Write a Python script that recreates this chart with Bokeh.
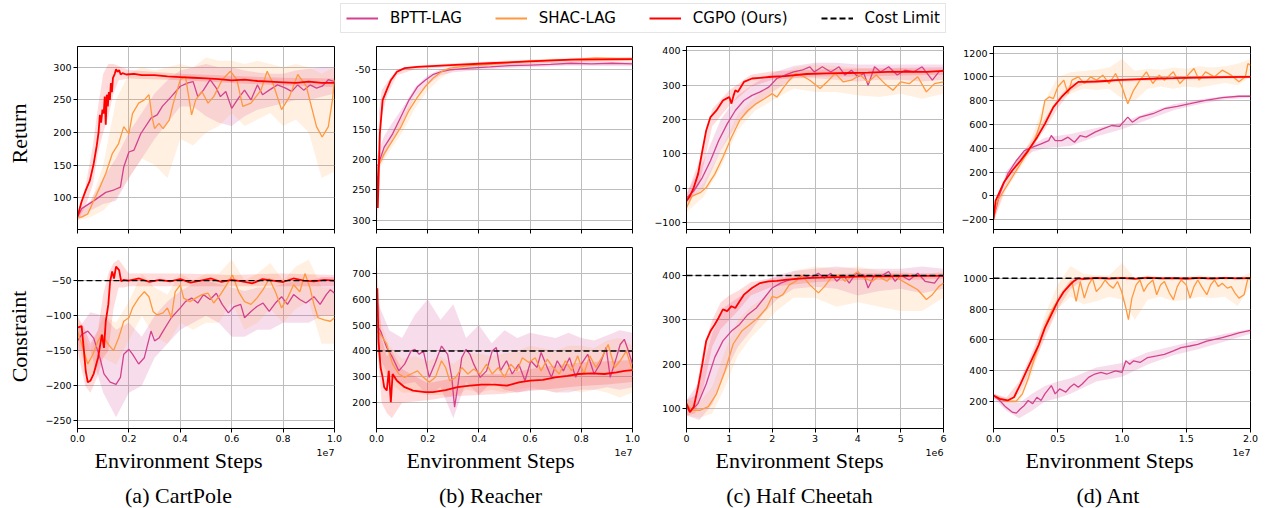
from bokeh.plotting import figure
from bokeh.layouts import column, row
from bokeh.models import (Legend, LegendItem, FixedTicker, Span,
                          CustomJSTickFormatter, NumeralTickFormatter)
from bokeh.core.properties import value
from bokeh.embed import file_html
from bokeh.resources import INLINE

BPTT_C = "#d4418e"
SHAC_C = "#ff983e"
CGPO_C = "#ff0000"

SERIES = ["BPTT-LAG", "SHAC-LAG", "CGPO (Ours)"]
TASKS = ["(a) CartPole", "(b) Reacher", "(c) Half Cheetah", "(d) Ant"]
ROW_LABELS = ["Return", "Constraint"]
COST_LIMITS = [-50, 400, 400, 1000]

# ---------------- CartPole : Return (x in 1e7 steps) ----------------
cp_r_cgpo_x = [0, 0.016, 0.032, 0.048, 0.063, 0.075, 0.082, 0.087, 0.092, 0.097, 0.102, 0.106, 0.110, 0.114, 0.118, 0.122, 0.126, 0.130, 0.134, 0.138, 0.145, 0.150, 0.156, 0.162, 0.168, 0.175, 0.19, 0.22, 0.25, 0.3, 0.35, 0.4, 0.45, 0.5, 0.55, 0.6, 0.65, 0.7, 0.75, 0.8, 0.85, 0.9, 0.95, 1.0]
cp_r_cgpo_y = [71, 94, 111, 126, 152, 180, 200, 227, 215, 235, 229, 255, 212, 258, 240, 262, 250, 276, 262, 284, 290, 297, 293, 296, 289, 291, 289, 290, 288, 288, 286, 285, 284, 283, 282, 280, 281, 279, 278, 277, 276, 278, 276, 276]
cp_r_bptt_x = [0, 0.016, 0.063, 0.11, 0.143, 0.167, 0.18, 0.2, 0.22, 0.246, 0.286, 0.31, 0.33, 0.365, 0.4, 0.43, 0.45, 0.468, 0.49, 0.516, 0.54, 0.556, 0.577, 0.6, 0.627, 0.65, 0.675, 0.7, 0.72, 0.746, 0.778, 0.81, 0.833, 0.857, 0.88, 0.905, 0.93, 0.952, 0.976, 1.0]
cp_r_bptt_y = [70, 83, 95, 108, 112, 116, 147, 170, 173, 198, 222, 227, 240, 255, 271, 276, 278, 255, 265, 281, 268, 255, 263, 237, 253, 265, 250, 273, 258, 265, 273, 268, 263, 273, 265, 273, 268, 271, 281, 278]
cp_r_shac_x = [0, 0.016, 0.04, 0.063, 0.087, 0.11, 0.135, 0.16, 0.18, 0.2, 0.214, 0.238, 0.26, 0.278, 0.29, 0.3, 0.317, 0.333, 0.357, 0.373, 0.4, 0.42, 0.444, 0.46, 0.484, 0.508, 0.53, 0.563, 0.595, 0.62, 0.643, 0.675, 0.714, 0.738, 0.76, 0.794, 0.825, 0.857, 0.89, 0.93, 0.952, 0.976, 0.992, 1.0]
cp_r_shac_y = [70, 70, 75, 95, 116, 137, 167, 183, 209, 198, 229, 245, 250, 258, 224, 206, 214, 206, 219, 245, 281, 286, 227, 250, 263, 245, 255, 281, 294, 281, 240, 245, 265, 294, 276, 235, 255, 289, 271, 209, 193, 209, 250, 281]
cp_r_cgpo_bx = [0, 0.03, 0.06, 0.08, 0.1, 0.12, 0.14, 0.16, 0.2, 0.4, 0.6, 0.8, 1.0]
cp_r_cgpo_lo = [65, 85, 120, 170, 200, 225, 260, 280, 283, 280, 276, 272, 270]
cp_r_cgpo_hi = [75, 115, 180, 240, 290, 305, 305, 302, 296, 290, 287, 284, 283]
cp_r_bptt_bx = [0, 0.05, 0.1, 0.15, 0.2, 0.25, 0.3, 0.35, 0.4, 0.45, 0.5, 0.55, 0.6, 0.65, 0.7, 0.75, 0.8, 0.85, 0.9, 0.95, 1.0]
cp_r_bptt_lo = [65, 80, 90, 95, 130, 160, 190, 215, 240, 240, 225, 215, 210, 225, 235, 240, 245, 250, 250, 255, 260]
cp_r_bptt_hi = [75, 95, 130, 160, 200, 230, 260, 280, 295, 300, 305, 300, 300, 295, 292, 290, 290, 295, 298, 300, 300]
cp_r_shac_bx = [0, 0.05, 0.1, 0.15, 0.2, 0.25, 0.3, 0.35, 0.4, 0.45, 0.5, 0.55, 0.6, 0.65, 0.7, 0.75, 0.8, 0.85, 0.9, 0.95, 1.0]
cp_r_shac_lo = [65, 70, 80, 100, 130, 160, 150, 130, 190, 180, 200, 210, 230, 210, 220, 230, 210, 220, 200, 130, 140]
cp_r_shac_hi = [75, 90, 150, 250, 290, 300, 295, 300, 305, 300, 315, 310, 310, 305, 310, 305, 300, 305, 300, 290, 300]

# ---------------- Reacher : Return (x in 1e7 steps) ----------------
re_r_cgpo_x = [0, 0.005, 0.013, 0.024, 0.04, 0.056, 0.08, 0.11, 0.16, 0.29, 0.44, 0.6, 0.76, 1.0]
re_r_cgpo_y = [-212, -280, -157, -101, -84, -68, -54, -48, -46, -43, -40, -37, -34, -33]
re_r_bptt_x = [0, 0.008, 0.03, 0.063, 0.095, 0.127, 0.16, 0.19, 0.22, 0.254, 0.286, 0.365, 0.444, 0.52, 0.6, 0.68, 0.76, 0.84, 0.92, 1.0]
re_r_bptt_y = [-212, -207, -179, -157, -129, -101, -79, -68, -59, -54, -51, -48, -46, -44, -43, -42, -40, -41, -40, -41]
re_r_shac_x = [0, 0.008, 0.03, 0.063, 0.095, 0.127, 0.16, 0.19, 0.22, 0.254, 0.286, 0.365, 0.444, 0.6, 0.76, 0.857, 1.0]
re_r_shac_y = [-212, -210, -190, -168, -146, -118, -96, -79, -65, -54, -48, -44, -42, -36, -34, -31, -33]
re_r_cgpo_bx = [0, 0.005, 0.01, 0.02, 0.04, 0.08, 0.15, 0.3, 0.6, 1.0]
re_r_cgpo_lo = [-240, -305, -250, -130, -95, -60, -50, -46, -40, -36]
re_r_cgpo_hi = [-195, -240, -120, -85, -72, -50, -44, -40, -34, -30]
re_r_bptt_bx = [0, 0.03, 0.06, 0.1, 0.15, 0.2, 0.25, 0.3, 0.5, 0.75, 1.0]
re_r_bptt_lo = [-220, -195, -170, -140, -95, -75, -60, -55, -48, -44, -45]
re_r_bptt_hi = [-195, -160, -140, -115, -80, -60, -50, -47, -41, -37, -38]
re_r_shac_bx = [0, 0.03, 0.06, 0.1, 0.15, 0.2, 0.25, 0.3, 0.5, 0.75, 1.0]
re_r_shac_lo = [-225, -200, -180, -155, -115, -85, -65, -52, -43, -37, -38]
re_r_shac_hi = [-200, -180, -155, -130, -95, -72, -55, -45, -37, -31, -29]

# ---------------- Half Cheetah : Return (x in 1e6 steps) ----------------
hc_r_cgpo_x = [0, 0.08, 0.17, 0.27, 0.37, 0.46, 0.56, 0.7, 0.85, 0.95, 1.0, 1.05, 1.1, 1.14, 1.2, 1.34, 1.53, 1.72, 2.0, 2.3, 2.8, 3.27, 3.8, 4.24, 4.7, 5.2, 5.6, 6.0]
hc_r_cgpo_y = [-37, -23, 2, 41, 109, 168, 207, 226, 255, 262, 265, 246, 270, 285, 280, 309, 319, 321, 324, 326, 332, 334, 335, 336, 338, 339, 338, 341]
hc_r_bptt_x = [0, 0.17, 0.37, 0.56, 0.75, 0.95, 1.14, 1.34, 1.53, 1.72, 1.92, 2.11, 2.3, 2.5, 2.69, 2.88, 2.98, 3.17, 3.37, 3.56, 3.7, 3.85, 4.0, 4.14, 4.24, 4.39, 4.53, 4.72, 4.92, 5.1, 5.3, 5.5, 5.74, 5.89, 6.0]
hc_r_bptt_y = [-28, -8, 31, 80, 138, 187, 226, 255, 270, 280, 294, 319, 329, 338, 343, 353, 338, 353, 338, 353, 329, 343, 324, 334, 299, 353, 338, 353, 329, 343, 338, 353, 314, 338, 343]
hc_r_shac_x = [0, 0.13, 0.32, 0.46, 0.66, 0.85, 1.05, 1.24, 1.43, 1.63, 1.82, 2.0, 2.11, 2.25, 2.4, 2.55, 2.74, 2.88, 3.12, 3.32, 3.47, 3.66, 3.85, 4.05, 4.24, 4.43, 4.63, 4.82, 5.0, 5.2, 5.4, 5.6, 5.79, 6.0]
hc_r_shac_y = [-57, -23, -13, 2, 41, 90, 148, 197, 226, 246, 260, 275, 265, 290, 314, 334, 324, 314, 290, 314, 334, 309, 314, 329, 309, 329, 304, 285, 309, 304, 324, 280, 304, 309]
hc_r_cgpo_bx = [0, 0.3, 0.6, 1.0, 1.5, 2, 3, 4, 5, 6]
hc_r_cgpo_lo = [-50, 10, 180, 240, 295, 315, 325, 325, 328, 330]
hc_r_cgpo_hi = [-20, 80, 230, 285, 330, 340, 345, 348, 350, 352]
hc_r_bptt_bx = [0, 0.4, 0.8, 1.2, 1.6, 2, 2.5, 3, 3.5, 4, 4.5, 5, 5.5, 6]
hc_r_bptt_lo = [-40, 0, 110, 190, 240, 280, 320, 320, 315, 310, 315, 315, 310, 315]
hc_r_bptt_hi = [-15, 80, 200, 270, 305, 335, 355, 365, 365, 360, 360, 360, 360, 360]
hc_r_shac_bx = [0, 0.4, 0.8, 1.2, 1.6, 2, 2.5, 3, 3.5, 4, 4.5, 5, 5.5, 6]
hc_r_shac_lo = [-70, -25, 60, 170, 225, 255, 290, 280, 280, 270, 265, 275, 260, 275]
hc_r_shac_hi = [-40, 15, 110, 215, 265, 305, 350, 360, 355, 350, 345, 350, 340, 345]

# ---------------- Ant : Return (x in 1e7 steps) ----------------
an_r_cgpo_x = [0, 0.016, 0.08, 0.145, 0.21, 0.27, 0.34, 0.4, 0.466, 0.53, 0.595, 0.66, 0.72, 0.8, 0.9, 0.95, 1.1, 1.27, 1.4, 1.59, 1.8, 2.0]
an_r_cgpo_y = [-197, -42, 113, 212, 296, 381, 494, 606, 747, 832, 902, 959, 959, 962, 968, 973, 980, 987, 990, 995, 998, 1001]
an_r_bptt_x = [0, 0.048, 0.11, 0.177, 0.24, 0.3, 0.37, 0.43, 0.45, 0.48, 0.53, 0.58, 0.63, 0.675, 0.72, 0.79, 0.85, 0.92, 0.98, 1.045, 1.08, 1.14, 1.24, 1.33, 1.43, 1.53, 1.65, 1.78, 1.91, 2.0]
an_r_bptt_y = [-183, 14, 183, 296, 381, 409, 437, 465, 508, 465, 465, 494, 451, 508, 494, 536, 564, 592, 584, 663, 620, 663, 691, 733, 753, 775, 804, 826, 838, 838]
an_r_shac_x = [0, 0.03, 0.096, 0.177, 0.257, 0.32, 0.37, 0.4, 0.434, 0.466, 0.5, 0.547, 0.58, 0.61, 0.66, 0.707, 0.756, 0.8, 0.85, 0.9, 0.95, 1.0, 1.045, 1.09, 1.14, 1.19, 1.24, 1.29, 1.33, 1.4, 1.45, 1.5, 1.56, 1.6, 1.65, 1.72, 1.78, 1.85, 1.91, 1.96, 1.98, 2.0]
an_r_shac_y = [-183, -42, 71, 212, 352, 465, 634, 804, 832, 818, 916, 973, 860, 973, 1001, 945, 1001, 973, 1015, 945, 1029, 916, 775, 888, 973, 1043, 945, 1015, 973, 1043, 945, 1001, 1071, 973, 1043, 1001, 1057, 1015, 959, 1001, 1113, 1099]
an_r_cgpo_bx = [0, 0.1, 0.2, 0.3, 0.4, 0.5, 0.6, 0.7, 1.0, 1.5, 2.0]
an_r_cgpo_lo = [-220, 90, 250, 410, 560, 740, 880, 940, 960, 980, 990]
an_r_cgpo_hi = [-170, 140, 330, 470, 650, 820, 940, 975, 985, 1005, 1015]
an_r_bptt_bx = [0, 0.1, 0.2, 0.3, 0.4, 0.6, 0.8, 1.0, 1.2, 1.4, 1.6, 1.8, 2.0]
an_r_bptt_lo = [-200, 160, 290, 370, 400, 420, 500, 560, 640, 720, 770, 810, 825]
an_r_bptt_hi = [-170, 210, 330, 430, 490, 520, 570, 620, 700, 770, 810, 840, 850]
an_r_shac_bx = [0, 0.1, 0.2, 0.3, 0.4, 0.5, 0.6, 0.7, 0.8, 0.9, 1.0, 1.1, 1.2, 1.3, 1.4, 1.5, 1.6, 1.7, 1.8, 1.9, 2.0]
an_r_shac_lo = [-210, 50, 220, 380, 600, 800, 860, 900, 890, 900, 820, 800, 900, 920, 900, 920, 910, 930, 950, 930, 1000]
an_r_shac_hi = [-160, 110, 280, 500, 800, 1000, 1040, 1050, 1060, 1080, 1150, 1050, 1070, 1060, 1080, 1070, 1090, 1080, 1090, 1110, 1150]

# ---------------- CartPole : Constraint ----------------
cp_c_cgpo_x = [0, 0.016, 0.024, 0.032, 0.04, 0.05, 0.063, 0.08, 0.095, 0.103, 0.11, 0.12, 0.127, 0.135, 0.142, 0.15, 0.162, 0.17, 0.18, 0.2, 0.24, 0.28, 0.32, 0.36, 0.4, 0.44, 0.48, 0.52, 0.56, 0.6, 0.64, 0.68, 0.72, 0.76, 0.8, 0.84, 0.88, 0.92, 0.96, 1.0]
cp_c_cgpo_y = [-117, -115, -146, -179, -195, -193, -183, -160, -127, -146, -108, -84, -51, -37, -47, -30, -35, -51, -49, -50, -47, -52, -49, -51, -48, -53, -50, -47, -52, -49, -51, -54, -48, -50, -52, -47, -50, -51, -49, -50]
cp_c_bptt_x = [0, 0.016, 0.04, 0.063, 0.087, 0.103, 0.127, 0.15, 0.167, 0.18, 0.2, 0.214, 0.238, 0.26, 0.286, 0.3, 0.317, 0.333, 0.365, 0.4, 0.42, 0.444, 0.468, 0.49, 0.516, 0.54, 0.563, 0.587, 0.61, 0.635, 0.65, 0.675, 0.698, 0.722, 0.746, 0.77, 0.794, 0.817, 0.841, 0.865, 0.889, 0.92, 0.944, 0.968, 0.984, 1.0]
cp_c_bptt_y = [-136, -127, -122, -132, -160, -183, -195, -198, -188, -155, -148, -155, -169, -160, -122, -136, -132, -122, -103, -89, -80, -75, -82, -70, -77, -68, -84, -96, -87, -84, -103, -94, -87, -82, -94, -82, -73, -84, -70, -77, -82, -73, -84, -70, -63, -68]
cp_c_shac_x = [0, 0.024, 0.04, 0.06, 0.08, 0.095, 0.12, 0.14, 0.16, 0.18, 0.2, 0.214, 0.238, 0.26, 0.278, 0.294, 0.31, 0.333, 0.35, 0.365, 0.38, 0.4, 0.413, 0.437, 0.46, 0.484, 0.508, 0.53, 0.556, 0.58, 0.603, 0.627, 0.65, 0.675, 0.698, 0.722, 0.746, 0.77, 0.794, 0.817, 0.841, 0.865, 0.885, 0.905, 0.92, 0.936, 0.96, 0.984, 1.0]
cp_c_shac_y = [-122, -150, -169, -155, -136, -127, -141, -150, -132, -108, -103, -89, -75, -66, -73, -94, -99, -96, -89, -103, -66, -56, -75, -80, -75, -70, -68, -82, -70, -56, -42, -66, -80, -84, -75, -63, -47, -66, -89, -75, -56, -66, -40, -61, -84, -103, -106, -108, -103]
cp_c_cgpo_bx = [0, 0.03, 0.05, 0.08, 0.1, 0.12, 0.14, 0.16, 0.18, 0.2, 0.4, 0.6, 0.8, 1.0]
cp_c_cgpo_lo = [-150, -200, -210, -185, -160, -150, -90, -60, -60, -58, -58, -58, -58, -58]
cp_c_cgpo_hi = [-100, -120, -140, -120, -70, -40, -25, -20, -30, -40, -40, -42, -40, -42]
cp_c_bptt_bx = [0, 0.05, 0.1, 0.15, 0.2, 0.25, 0.3, 0.35, 0.4, 0.45, 0.5, 0.55, 0.6, 0.65, 0.7, 0.75, 0.8, 0.85, 0.9, 0.95, 1.0]
cp_c_bptt_lo = [-150, -150, -210, -245, -210, -200, -160, -140, -120, -110, -100, -110, -130, -130, -120, -120, -110, -110, -110, -100, -100]
cp_c_bptt_hi = [-120, -95, -100, -120, -110, -130, -100, -80, -65, -55, -50, -55, -60, -65, -60, -60, -55, -50, -50, -45, -45]
cp_c_shac_bx = [0, 0.05, 0.1, 0.15, 0.2, 0.25, 0.3, 0.35, 0.4, 0.45, 0.5, 0.55, 0.6, 0.65, 0.7, 0.75, 0.8, 0.85, 0.9, 0.95, 1.0]
cp_c_shac_lo = [-140, -190, -160, -170, -135, -100, -130, -140, -110, -120, -110, -110, -80, -120, -110, -90, -110, -90, -80, -140, -140]
cp_c_shac_hi = [-100, -150, -100, -110, -80, -40, -60, -70, -40, -50, -40, -40, -20, -50, -40, -25, -50, -30, -20, -60, -60]

# ---------------- Reacher : Constraint ----------------
re_c_cgpo_x = [0, 0.003, 0.008, 0.016, 0.024, 0.03, 0.04, 0.048, 0.056, 0.063, 0.08, 0.11, 0.143, 0.19, 0.22, 0.27, 0.317, 0.365, 0.41, 0.46, 0.51, 0.556, 0.6, 0.65, 0.698, 0.746, 0.79, 0.84, 0.89, 0.937, 0.97, 1.0]
re_c_cgpo_y = [604, 642, 438, 336, 298, 260, 247, 323, 202, 311, 285, 260, 247, 241, 241, 249, 260, 266, 270, 270, 266, 279, 285, 288, 298, 304, 311, 313, 311, 317, 323, 326]
re_c_bptt_x = [0, 0.016, 0.04, 0.063, 0.087, 0.11, 0.135, 0.15, 0.167, 0.183, 0.206, 0.23, 0.254, 0.278, 0.294, 0.305, 0.317, 0.333, 0.35, 0.365, 0.38, 0.405, 0.43, 0.452, 0.468, 0.484, 0.508, 0.53, 0.556, 0.58, 0.603, 0.627, 0.643, 0.667, 0.683, 0.706, 0.73, 0.754, 0.778, 0.8, 0.825, 0.85, 0.873, 0.897, 0.913, 0.937, 0.952, 0.968, 0.984, 1.0]
re_c_bptt_y = [502, 477, 413, 374, 323, 349, 400, 406, 387, 400, 298, 355, 419, 387, 298, 183, 260, 374, 406, 387, 349, 298, 323, 400, 413, 323, 362, 311, 349, 285, 362, 336, 394, 336, 298, 362, 323, 374, 298, 349, 387, 311, 349, 413, 298, 374, 425, 445, 400, 349]
re_c_shac_x = [0, 0.016, 0.04, 0.063, 0.087, 0.11, 0.135, 0.16, 0.183, 0.206, 0.23, 0.254, 0.27, 0.286, 0.31, 0.333, 0.357, 0.38, 0.405, 0.43, 0.452, 0.476, 0.5, 0.524, 0.548, 0.57, 0.595, 0.62, 0.643, 0.667, 0.69, 0.714, 0.738, 0.762, 0.786, 0.81, 0.833, 0.857, 0.88, 0.905, 0.93, 0.952, 0.976, 1.0]
re_c_shac_y = [477, 464, 426, 349, 311, 298, 311, 323, 298, 279, 298, 362, 336, 285, 298, 336, 311, 330, 311, 349, 311, 336, 298, 349, 323, 374, 355, 374, 323, 368, 336, 311, 362, 323, 381, 311, 381, 336, 374, 425, 336, 362, 400, 323]
re_c_cgpo_bx = [0, 0.02, 0.04, 0.06, 0.1, 0.2, 0.3, 0.4, 0.5, 0.6, 0.7, 0.8, 0.9, 1.0]
re_c_cgpo_lo = [450, 200, 160, 140, 200, 210, 225, 230, 235, 245, 255, 265, 270, 280]
re_c_cgpo_hi = [760, 450, 380, 400, 330, 275, 295, 310, 310, 330, 345, 355, 360, 365]
re_c_bptt_bx = [0, 0.05, 0.1, 0.15, 0.2, 0.25, 0.3, 0.35, 0.4, 0.45, 0.5, 0.55, 0.6, 0.65, 0.7, 0.75, 0.8, 0.85, 0.9, 0.95, 1.0]
re_c_bptt_lo = [400, 300, 270, 280, 230, 260, 140, 280, 230, 280, 250, 240, 250, 250, 240, 240, 250, 250, 260, 250, 260]
re_c_bptt_hi = [600, 480, 450, 540, 600, 520, 580, 450, 500, 430, 480, 450, 470, 460, 450, 470, 450, 440, 460, 480, 470]
re_c_shac_bx = [0, 0.05, 0.1, 0.15, 0.2, 0.25, 0.3, 0.35, 0.4, 0.45, 0.5, 0.55, 0.6, 0.65, 0.7, 0.75, 0.8, 0.85, 0.9, 0.95, 1.0]
re_c_shac_lo = [380, 280, 240, 240, 230, 230, 220, 250, 240, 250, 240, 250, 260, 250, 240, 250, 240, 250, 240, 220, 240]
re_c_shac_hi = [560, 420, 370, 380, 360, 380, 350, 390, 390, 380, 390, 400, 420, 410, 400, 420, 420, 410, 440, 450, 420]

# ---------------- Half Cheetah : Constraint ----------------
hc_c_cgpo_x = [0, 0.08, 0.17, 0.27, 0.37, 0.46, 0.56, 0.66, 0.75, 0.85, 0.95, 1.05, 1.14, 1.24, 1.34, 1.53, 1.72, 1.92, 2.11, 2.3, 2.79, 3.27, 3.8, 4.24, 4.7, 5.2, 5.6, 6.0]
hc_c_cgpo_y = [112, 93, 105, 149, 201, 253, 275, 290, 305, 324, 320, 331, 327, 342, 357, 372, 383, 387, 388, 390, 394, 396, 397, 398, 398, 399, 399, 399]
hc_c_bptt_x = [0, 0.08, 0.27, 0.46, 0.66, 0.85, 1.05, 1.24, 1.43, 1.63, 1.82, 2.0, 2.2, 2.4, 2.6, 2.74, 2.88, 3.08, 3.22, 3.37, 3.51, 3.66, 3.8, 3.95, 4.14, 4.24, 4.39, 4.53, 4.72, 4.87, 5.0, 5.2, 5.4, 5.57, 5.79, 5.93, 6.0]
hc_c_bptt_y = [105, 93, 112, 156, 216, 253, 275, 290, 312, 327, 350, 372, 383, 390, 394, 401, 394, 405, 394, 405, 387, 401, 383, 405, 401, 372, 401, 398, 409, 387, 401, 390, 405, 387, 383, 401, 398]
hc_c_shac_x = [0, 0.13, 0.32, 0.51, 0.7, 0.9, 1.09, 1.29, 1.48, 1.67, 1.87, 2.0, 2.11, 2.25, 2.4, 2.55, 2.69, 2.88, 3.08, 3.22, 3.37, 3.56, 3.7, 3.85, 4.0, 4.14, 4.34, 4.48, 4.68, 4.82, 5.0, 5.2, 5.4, 5.6, 5.74, 5.89, 6.0]
hc_c_shac_y = [112, 97, 97, 105, 134, 186, 246, 275, 290, 305, 327, 353, 350, 357, 379, 387, 401, 379, 361, 375, 394, 401, 387, 398, 409, 394, 387, 398, 387, 401, 390, 379, 368, 346, 357, 375, 383]
hc_c_cgpo_bx = [0, 0.2, 0.4, 0.6, 0.8, 1.0, 1.2, 1.5, 2, 3, 4, 5, 6]
hc_c_cgpo_lo = [85, 90, 150, 240, 280, 300, 320, 355, 375, 385, 390, 390, 392]
hc_c_cgpo_hi = [120, 130, 240, 300, 340, 355, 365, 385, 395, 402, 405, 405, 405]
hc_c_bptt_bx = [0, 0.3, 0.6, 0.9, 1.2, 1.5, 1.8, 2.1, 2.5, 3, 3.5, 4, 4.5, 5, 5.5, 6]
hc_c_bptt_lo = [85, 75, 110, 180, 240, 275, 315, 345, 370, 375, 370, 355, 365, 370, 360, 370]
hc_c_bptt_hi = [120, 160, 270, 330, 350, 365, 385, 400, 410, 415, 420, 415, 415, 415, 420, 415]
hc_c_shac_bx = [0, 0.3, 0.6, 0.9, 1.2, 1.5, 1.8, 2.1, 2.5, 3, 3.5, 4, 4.5, 5, 5.5, 6]
hc_c_shac_lo = [85, 80, 90, 150, 220, 260, 290, 320, 350, 350, 330, 340, 330, 320, 320, 350]
hc_c_shac_hi = [120, 115, 150, 230, 300, 330, 350, 375, 410, 420, 415, 420, 410, 410, 400, 410]

# ---------------- Ant : Constraint ----------------
an_c_cgpo_x = [0, 0.048, 0.11, 0.16, 0.21, 0.257, 0.305, 0.354, 0.4, 0.45, 0.5, 0.547, 0.595, 0.627, 0.66, 0.7, 0.8, 0.9, 1.0, 1.1, 1.2, 1.3, 1.4, 1.5, 1.6, 1.7, 1.8, 1.9, 2.0]
an_c_cgpo_y = [238, 217, 206, 227, 313, 399, 485, 571, 678, 764, 850, 914, 957, 983, 1000, 995, 1003, 998, 1002, 996, 1004, 999, 1001, 997, 1003, 998, 1002, 1000, 1001]
an_c_bptt_x = [0, 0.048, 0.096, 0.145, 0.177, 0.21, 0.24, 0.27, 0.305, 0.338, 0.37, 0.4, 0.45, 0.48, 0.515, 0.563, 0.595, 0.627, 0.66, 0.69, 0.74, 0.788, 0.836, 0.884, 0.95, 1.0, 1.03, 1.06, 1.09, 1.14, 1.2, 1.27, 1.33, 1.4, 1.46, 1.53, 1.59, 1.66, 1.72, 1.78, 1.85, 1.91, 2.0]
an_c_bptt_y = [238, 206, 163, 131, 124, 152, 174, 206, 185, 227, 206, 249, 303, 249, 281, 260, 292, 313, 292, 313, 356, 378, 388, 378, 399, 388, 464, 442, 464, 453, 485, 496, 506, 528, 549, 560, 571, 592, 603, 614, 631, 646, 661]
an_c_shac_x = [0, 0.048, 0.11, 0.177, 0.225, 0.273, 0.32, 0.37, 0.418, 0.466, 0.515, 0.56, 0.61, 0.643, 0.675, 0.707, 0.74, 0.77, 0.8, 0.836, 0.868, 0.9, 0.932, 0.965, 0.997, 1.03, 1.05, 1.077, 1.11, 1.14, 1.17, 1.2, 1.24, 1.27, 1.3, 1.33, 1.37, 1.4, 1.43, 1.46, 1.5, 1.53, 1.56, 1.59, 1.62, 1.66, 1.69, 1.72, 1.75, 1.78, 1.82, 1.85, 1.88, 1.91, 1.95, 1.98, 2.0]
an_c_shac_y = [238, 217, 202, 202, 249, 356, 485, 614, 721, 807, 871, 925, 979, 850, 979, 871, 957, 1000, 914, 946, 989, 957, 936, 979, 914, 807, 732, 871, 957, 989, 914, 957, 989, 893, 957, 979, 903, 861, 946, 989, 957, 871, 946, 989, 946, 893, 957, 989, 946, 968, 936, 946, 903, 871, 893, 1000, 989]
an_c_cgpo_bx = [0, 0.1, 0.2, 0.3, 0.4, 0.5, 0.6, 0.7, 1.0, 1.5, 2.0]
an_c_cgpo_lo = [220, 195, 250, 420, 610, 800, 930, 990, 992, 992, 992]
an_c_cgpo_hi = [250, 225, 330, 520, 720, 880, 990, 1010, 1008, 1008, 1008]
an_c_bptt_bx = [0, 0.1, 0.2, 0.3, 0.4, 0.5, 0.6, 0.8, 1.0, 1.2, 1.4, 1.6, 1.8, 2.0]
an_c_bptt_lo = [220, 140, 90, 140, 200, 220, 250, 330, 360, 440, 500, 540, 590, 640]
an_c_bptt_hi = [250, 210, 190, 250, 300, 330, 350, 420, 450, 520, 560, 600, 640, 670]
an_c_shac_bx = [0, 0.1, 0.2, 0.3, 0.4, 0.5, 0.6, 0.7, 0.8, 0.9, 1.0, 1.1, 1.2, 1.3, 1.4, 1.5, 1.6, 1.7, 1.8, 1.9, 2.0]
an_c_shac_lo = [220, 190, 190, 380, 640, 800, 880, 830, 850, 880, 860, 730, 860, 880, 850, 860, 880, 870, 880, 820, 950]
an_c_shac_hi = [250, 220, 240, 480, 760, 960, 1080, 1030, 1020, 1020, 1100, 1000, 1020, 1010, 1010, 1010, 1020, 1010, 1010, 1000, 1040]

# ---------------- axes ----------------
x_ticks = [[0, 0.2, 0.4, 0.6, 0.8, 1.0], [0, 0.2, 0.4, 0.6, 0.8, 1.0],
           [0, 1, 2, 3, 4, 5, 6], [0, 0.5, 1.0, 1.5, 2.0]]
x_ranges = [(0, 1), (0, 1), (0, 6), (0, 2)]
x_formats = ["0.0", "0.0", "0", "0.0"]
x_offsets = ["1e7", "1e7", "1e6", "1e7"]
ret_ticks = [[100, 150, 200, 250, 300], [-300, -250, -200, -150, -100, -50],
             [-100, 0, 100, 200, 300, 400], [-200, 0, 200, 400, 600, 800, 1000, 1200]]
ret_ranges = [(51, 332), (-315.6, -12.2), (-120, 412), (-282, 1256)]
con_ticks = [[-250, -200, -150, -100, -50], [200, 300, 400, 500, 600, 700],
             [100, 200, 300, 400], [200, 400, 600, 800, 1000]]
con_ranges = [(-261, -2.8), (100.5, 799.5), (56, 463), (24, 1200)]

# layout geometry (pixels)
STRIP_W = 38
FW = [257, 256, 257, 257]
BL = [39, 32, 44, 40]
BR = [10, 10, 10, 10]
R1_H = (2, 183, 17)      # top border, frame, bottom border
R2_H = (1, 181, 26)
TOP_H = 44
BOT_H = 64
BOT_OVERLAP = 10
# text anchor positions in strip pixels
OFFSET_X = [334, 632, 943, 1250]
XLABEL_X = [178, 490, 799, 1109]
CAPTION_X = [178, 490, 799, 1108]
OFFSET_Y = 56
XLABEL_Y = 48
CAPTION_Y = 13
ROWLAB_X = [18.5, 18.5]
ROWLAB_Y = [321, 118]

minus_fmt = CustomJSTickFormatter(code="return tick < 0 ? '\u2212' + Math.abs(tick) : '' + tick;")
reacher_fmt = CustomJSTickFormatter(code="return tick == -50 ? '-50' : '' + Math.abs(tick);")
blank_fmt = CustomJSTickFormatter(code="return '';")

ret_data = [
    (cp_r_bptt_x, cp_r_bptt_y, cp_r_shac_x, cp_r_shac_y, cp_r_cgpo_x, cp_r_cgpo_y,
     (cp_r_bptt_bx, cp_r_bptt_lo, cp_r_bptt_hi), (cp_r_shac_bx, cp_r_shac_lo, cp_r_shac_hi), (cp_r_cgpo_bx, cp_r_cgpo_lo, cp_r_cgpo_hi)),
    (re_r_bptt_x, re_r_bptt_y, re_r_shac_x, re_r_shac_y, re_r_cgpo_x, re_r_cgpo_y,
     (re_r_bptt_bx, re_r_bptt_lo, re_r_bptt_hi), (re_r_shac_bx, re_r_shac_lo, re_r_shac_hi), (re_r_cgpo_bx, re_r_cgpo_lo, re_r_cgpo_hi)),
    (hc_r_bptt_x, hc_r_bptt_y, hc_r_shac_x, hc_r_shac_y, hc_r_cgpo_x, hc_r_cgpo_y,
     (hc_r_bptt_bx, hc_r_bptt_lo, hc_r_bptt_hi), (hc_r_shac_bx, hc_r_shac_lo, hc_r_shac_hi), (hc_r_cgpo_bx, hc_r_cgpo_lo, hc_r_cgpo_hi)),
    (an_r_bptt_x, an_r_bptt_y, an_r_shac_x, an_r_shac_y, an_r_cgpo_x, an_r_cgpo_y,
     (an_r_bptt_bx, an_r_bptt_lo, an_r_bptt_hi), (an_r_shac_bx, an_r_shac_lo, an_r_shac_hi), (an_r_cgpo_bx, an_r_cgpo_lo, an_r_cgpo_hi)),
]
con_data = [
    (cp_c_bptt_x, cp_c_bptt_y, cp_c_shac_x, cp_c_shac_y, cp_c_cgpo_x, cp_c_cgpo_y,
     (cp_c_bptt_bx, cp_c_bptt_lo, cp_c_bptt_hi), (cp_c_shac_bx, cp_c_shac_lo, cp_c_shac_hi), (cp_c_cgpo_bx, cp_c_cgpo_lo, cp_c_cgpo_hi)),
    (re_c_bptt_x, re_c_bptt_y, re_c_shac_x, re_c_shac_y, re_c_cgpo_x, re_c_cgpo_y,
     (re_c_bptt_bx, re_c_bptt_lo, re_c_bptt_hi), (re_c_shac_bx, re_c_shac_lo, re_c_shac_hi), (re_c_cgpo_bx, re_c_cgpo_lo, re_c_cgpo_hi)),
    (hc_c_bptt_x, hc_c_bptt_y, hc_c_shac_x, hc_c_shac_y, hc_c_cgpo_x, hc_c_cgpo_y,
     (hc_c_bptt_bx, hc_c_bptt_lo, hc_c_bptt_hi), (hc_c_shac_bx, hc_c_shac_lo, hc_c_shac_hi), (hc_c_cgpo_bx, hc_c_cgpo_lo, hc_c_cgpo_hi)),
    (an_c_bptt_x, an_c_bptt_y, an_c_shac_x, an_c_shac_y, an_c_cgpo_x, an_c_cgpo_y,
     (an_c_bptt_bx, an_c_bptt_lo, an_c_bptt_hi), (an_c_shac_bx, an_c_shac_lo, an_c_shac_hi), (an_c_cgpo_bx, an_c_cgpo_lo, an_c_cgpo_hi)),
]


def make_panel(i, hs, yr, yt, yfmt, show_x):
    bt, fh, bb = hs
    p = figure(frame_width=FW[i], frame_height=fh, x_range=x_ranges[i], y_range=yr,
               output_backend="svg", toolbar_location=None,
               min_border_left=BL[i], min_border_right=BR[i],
               min_border_top=bt, min_border_bottom=bb)
    p.xaxis.ticker = FixedTicker(ticks=x_ticks[i])
    p.yaxis.ticker = FixedTicker(ticks=yt)
    p.xaxis.formatter = NumeralTickFormatter(format=x_formats[i]) if show_x else blank_fmt
    p.yaxis.formatter = yfmt
    for ax in [p.xaxis[0], p.yaxis[0]]:
        ax.major_tick_out = 4
        ax.major_tick_in = 0
        ax.minor_tick_line_color = None
        ax.axis_line_color = "black"
        ax.major_tick_line_color = "black"
        ax.major_label_text_font = "DejaVu Sans"
        ax.major_label_text_font_size = "9.5px"
        ax.major_label_text_color = "black"
        ax.major_label_standoff = 2
    p.grid.grid_line_color = "#bdbdbd"
    p.grid.grid_line_width = 1
    p.outline_line_color = "black"
    p.outline_line_width = 1
    return p


def draw(p, d):
    bx1, by1, bx2, by2, bx3, by3, b1, b2, b3 = d
    p.varea(x=b1[0], y1=b1[1], y2=b1[2], fill_color=BPTT_C, fill_alpha=0.18)
    p.varea(x=b2[0], y1=b2[1], y2=b2[2], fill_color=SHAC_C, fill_alpha=0.15)
    p.varea(x=b3[0], y1=b3[1], y2=b3[2], fill_color=CGPO_C, fill_alpha=0.14)
    p.line(bx1, by1, line_color=BPTT_C, line_width=1.3)
    p.line(bx2, by2, line_color=SHAC_C, line_width=1.3)
    p.line(bx3, by3, line_color=CGPO_C, line_width=1.8)


def strip(w, h):
    s = figure(frame_width=w, frame_height=h, x_range=(0, w), y_range=(0, h),
               output_backend="svg", toolbar_location=None, min_border=0,
               x_axis_location=None, y_axis_location=None, title=None)
    s.grid.visible = False
    s.outline_line_color = None
    s.background_fill_color = None
    s.border_fill_color = None
    return s


row1 = []
row2 = []
for i in range(4):
    yf = reacher_fmt if i == 1 else minus_fmt
    p = make_panel(i, R1_H, ret_ranges[i], ret_ticks[i], yf, False)
    draw(p, ret_data[i])
    row1.append(p)

    q = make_panel(i, R2_H, con_ranges[i], con_ticks[i], minus_fmt, True)
    draw(q, con_data[i])
    q.add_layout(Span(location=COST_LIMITS[i], dimension="width", line_color="black",
                      line_dash="6 3", line_width=1.4))
    row2.append(q)

grid_h = sum(R1_H) + sum(R2_H)
grid_w = sum(BL) + sum(FW) + sum(BR)

# left strip: row titles
left = strip(STRIP_W, grid_h)
left.text(x=ROWLAB_X, y=ROWLAB_Y, text=ROW_LABELS, angle=1.5708,
          text_align="center", text_baseline="middle",
          text_font=value("Liberation Serif"), text_font_size="22px", text_color="black")

# bottom strip: offsets, x labels, captions (pulled up over the axis border)
full_w = STRIP_W + grid_w
bottom = strip(full_w, BOT_H)
bottom.margin = (-BOT_OVERLAP, 0, 0, 0)
bottom.text(x=OFFSET_X, y=[OFFSET_Y] * 4, text=x_offsets, text_align="right",
            text_baseline="alphabetic", text_font=value("DejaVu Sans"),
            text_font_size="9.5px", text_color="black")
bottom.text(x=XLABEL_X, y=[XLABEL_Y] * 4, text=["Environment Steps"] * 4, text_align="center",
            text_baseline="alphabetic", text_font=value("Liberation Serif"),
            text_font_size="22px", text_color="black")
bottom.text(x=CAPTION_X, y=[CAPTION_Y] * 4, text=TASKS, text_align="center",
            text_baseline="alphabetic", text_font=value("Liberation Serif"),
            text_font_size="22px", text_color="black")

# ---------------- legend strip ----------------
top = strip(full_w, TOP_H)
l1 = top.line([-20, -10], [-20, -20], line_color=BPTT_C, line_width=2)
l2 = top.line([-20, -10], [-20, -20], line_color=SHAC_C, line_width=2)
l3 = top.line([-20, -10], [-20, -20], line_color=CGPO_C, line_width=2)
l4 = top.line([-20, -10], [-20, -20], line_color="black", line_width=2, line_dash="6 3")
leg = Legend(items=[LegendItem(label=SERIES[0], renderers=[l1]),
                    LegendItem(label=SERIES[1], renderers=[l2]),
                    LegendItem(label=SERIES[2], renderers=[l3]),
                    LegendItem(label="Cost Limit", renderers=[l4])],
             orientation="horizontal", location=(340, 11))
leg.label_text_font = "DejaVu Sans"
leg.label_text_font_size = "15px"
leg.label_text_color = "black"
leg.glyph_width = 32
leg.glyph_height = 18
leg.label_height = 18
leg.label_standoff = 12
leg.spacing = 33
leg.padding = 5
leg.margin = 0
leg.border_line_color = "#cccccc"
leg.border_line_width = 1
leg.background_fill_color = "white"
leg.background_fill_alpha = 1.0
top.add_layout(leg)

layout = column(top, row(left, column(row(*row1), row(*row2))), bottom)
open("out.html", "w").write(file_html(layout, INLINE))
